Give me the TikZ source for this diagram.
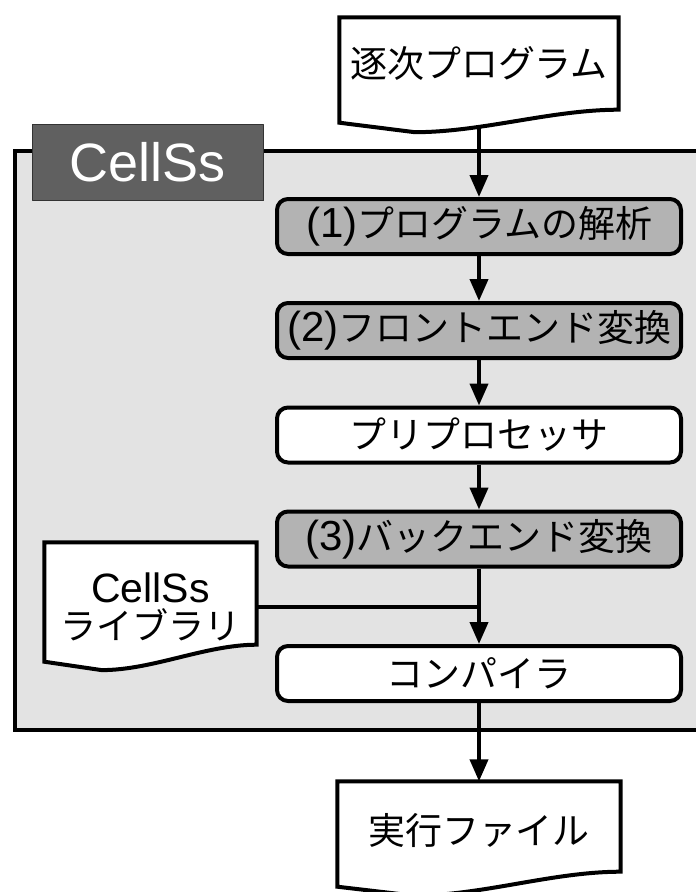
\documentclass[tikz,border=0pt]{standalone}
\usepackage{fontspec}
\setmainfont{Liberation Sans}
\newfontfamily\jp[Scale=0.88]{Noto Sans CJK JP}
\usetikzlibrary{arrows.meta,calc,backgrounds}

\definecolor{panel}{HTML}{E3E3E3}
\definecolor{stagegray}{HTML}{B3B3B3}
\definecolor{tagdark}{HTML}{606060}

% document symbol round a node: #2 and #3 are the drops below its south side, left and right
\newcommand\docframe[3]{%
  \path (#1.south west) ++(0,#2) coordinate (#1-l);
  \path (#1.south east) ++(0,#3) coordinate (#1-r);
  \coordinate (#1-d) at ($(#1-l)!0.27!(#1-r)+(0,13)$);
  \coordinate (#1-a) at ($(#1-r)!0.33!(#1-d)$);
  \coordinate (#1-b) at ($(#1-r)!0.67!(#1-d)$);
  \draw[docline] (#1-l) |- (#1.north east) -- (#1-r)
    .. controls (#1-a |- #1-r) and (#1-b |- #1-d) .. (#1-d) -- cycle;
}

\begin{document}
\begin{tikzpicture}
 [x=1pt,y=-1pt,line join=round,
  every node/.style={font=\fontsize{42}{48}\selectfont},
  stage/.style={draw,line width=4pt,rounded corners=11pt,fill=white,
    minimum width=404pt,minimum height=55pt,inner sep=0pt},
  stagedark/.style={stage,fill=stagegray},
  docbody/.style={inner sep=0pt},
  docline/.style={draw,line width=4pt,fill=white},
  tag/.style={draw=black!80,line width=1.2pt,fill=tagdark,text=white,
    font=\fontsize{54}{60}\selectfont,minimum width=231pt,minimum height=76pt,inner sep=0pt},
  flow/.style={draw,line width=4pt,-{Triangle[length=22pt,width=18pt]}},
  link/.style={draw,line width=4pt}]
  \useasboundingbox (0,0) rectangle (696,892);

  \node[stagedark] (analyse)  at (479,226.5) {(1)\jp プログラムの解析};
  \node[stagedark] (frontend) at (479,330.5) {(2)\jp フロントエンド変換};
  \node[stage]     (preproc)  at (479,435)   {\jp プリプロセッサ};
  \node[stagedark] (backend)  at (479,539)   {(3)\jp バックエンド変換};
  \node[stage]     (compiler) at (479,673.5) {\jp コンパイラ};

  \node[docbody,minimum width=279pt,minimum height=92pt] (progdoc) at (479,63.5) {\jp 逐次プログラム};
  \node[docbody,minimum width=283pt,minimum height=97pt] (exedoc) at (479,830) {\jp 実行ファイル};
  \node[docbody,minimum width=212pt,minimum height=129pt,align=center,
    font=\fontsize{41}{37}\selectfont] (libdoc) at (150.5,607) {CellSs\\\jp ライブラリ};

  \node[tag] (cellss) at (148,162.5) {CellSs};

  \begin{scope}[on background layer]
    \fill[panel] (14.5,151) rectangle (696,729.5);
    \draw[link] (696,151) -| (14.5,729.5) -- (696,729.5);
    \draw[flow] (progdoc.center) -- (analyse);
    \docframe{progdoc}{13}{0}
    \docframe{exedoc}{8}{-7}
    \docframe{libdoc}{-10}{-27}
  \end{scope}

  \foreach \from/\to in {analyse/frontend,frontend/preproc,preproc/backend,backend/compiler,compiler/exedoc}
    \draw[flow] (\from) -- (\to);
  \draw[link] (libdoc.east) -- (libdoc.east -| backend.south);
\end{tikzpicture}
\end{document}
